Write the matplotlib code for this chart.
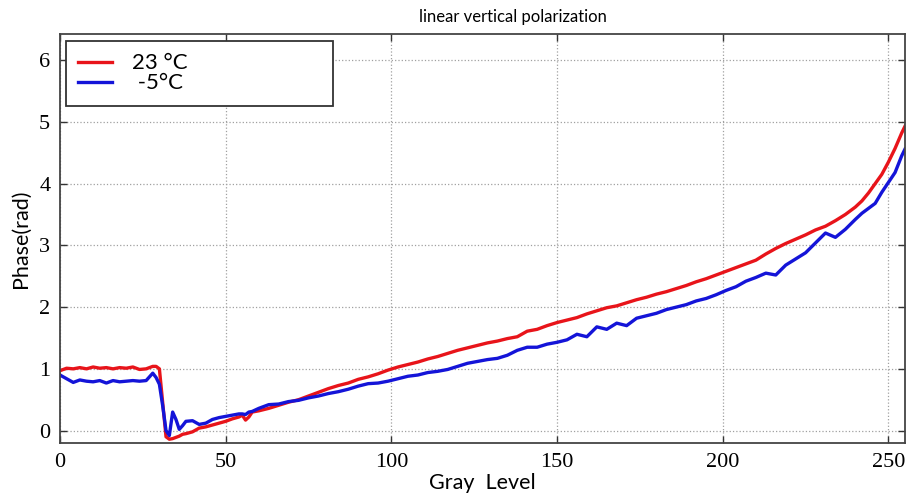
import numpy as np
import matplotlib.pyplot as plt

# gray levels where the phase was sampled
gray = [0, 2, 4, 6, 8, 10, 12, 14, 16, 18, 20, 22, 24, 26, 28,
        29, 30, 31, 32, 33, 34, 35, 36, 37, 38, 40, 42, 44, 46, 48,
        50, 52, 54, 55, 56, 57, 58, 60, 63, 66, 69, 72, 75, 78, 81,
        84, 87, 90, 93, 96, 99, 102, 105, 108, 111, 114, 117, 120, 123, 126,
        129, 132, 135, 138, 141, 144, 147, 150, 153, 156, 159, 162, 165, 168, 171,
        174, 177, 180, 183, 186, 189, 192, 195, 198, 201, 204, 207, 210, 213, 216,
        219, 222, 225, 228, 231, 234, 237, 240, 242, 244, 246, 248, 250, 252, 254, 255]

# phase (rad) at 23 C
phase_23 = [0.97, 1.01, 1.00, 1.02, 1.00, 1.03, 1.01, 1.02, 1.00, 1.02, 1.01, 1.03, 0.99, 1.00, 1.04,
            1.04, 1.00, 0.45, -0.10, -0.14, -0.13, -0.11, -0.09, -0.06, -0.05, -0.02, 0.04, 0.06, 0.09, 0.12,
            0.15, 0.19, 0.22, 0.25, 0.17, 0.22, 0.30, 0.32, 0.36, 0.41, 0.46, 0.50, 0.56, 0.62, 0.68,
            0.73, 0.77, 0.83, 0.87, 0.92, 0.98, 1.03, 1.07, 1.11, 1.16, 1.20, 1.25, 1.30, 1.34, 1.38,
            1.42, 1.45, 1.49, 1.52, 1.61, 1.64, 1.70, 1.75, 1.79, 1.83, 1.89, 1.94, 1.99, 2.02, 2.07,
            2.12, 2.16, 2.21, 2.25, 2.30, 2.35, 2.41, 2.46, 2.52, 2.58, 2.64, 2.70, 2.76, 2.86, 2.95,
            3.03, 3.10, 3.17, 3.25, 3.31, 3.40, 3.50, 3.62, 3.72, 3.85, 4.00, 4.15, 4.35, 4.57, 4.82, 4.93]

# phase (rad) at -5 C
phase_m5 = [0.90, 0.84, 0.78, 0.82, 0.80, 0.79, 0.81, 0.77, 0.81, 0.79, 0.80, 0.81, 0.80, 0.81, 0.93,
            0.86, 0.75, 0.40, 0.00, -0.08, 0.30, 0.18, 0.02, 0.08, 0.15, 0.16, 0.10, 0.12, 0.18, 0.21,
            0.23, 0.25, 0.27, 0.27, 0.26, 0.30, 0.31, 0.36, 0.42, 0.43, 0.47, 0.49, 0.53, 0.56, 0.60,
            0.63, 0.67, 0.72, 0.76, 0.77, 0.80, 0.84, 0.88, 0.90, 0.94, 0.96, 0.99, 1.04, 1.09, 1.12,
            1.15, 1.17, 1.22, 1.30, 1.35, 1.35, 1.40, 1.43, 1.47, 1.56, 1.52, 1.68, 1.64, 1.74, 1.70,
            1.82, 1.86, 1.90, 1.96, 2.00, 2.04, 2.10, 2.14, 2.20, 2.27, 2.33, 2.42, 2.48, 2.55, 2.52,
            2.68, 2.78, 2.88, 3.04, 3.20, 3.13, 3.26, 3.42, 3.52, 3.60, 3.68, 3.86, 4.02, 4.18, 4.45, 4.56]

labels = ['23 \u00b0C', ' -5\u00b0C']

fig = plt.figure(figsize=(9.06, 4.96), dpi=100)
ax = fig.add_axes([0.0662, 0.107, 0.9327, 0.824])

ax.plot(gray, phase_23, color='#e8141a', lw=2.4, label=labels[0])
ax.plot(gray, phase_m5, color='#1414d8', lw=2.4, label=labels[1])

ax.set_xlim(0, 255)
ax.set_ylim(-0.2, 6.42)
ax.set_xticks([0, 50, 100, 150, 200, 250])
ax.set_yticks([0, 1, 2, 3, 4, 5, 6])

ax.grid(True, linestyle=':', color='#a0a0a0', linewidth=0.9)
ax.tick_params(direction='in', top=True, right=True, length=5, width=1, colors='#333333',
               labelcolor='black', labelsize=16, pad=7)
for lab in ax.get_xticklabels() + ax.get_yticklabels():
    lab.set_family('Liberation Serif')
for sp in ax.spines.values():
    sp.set_color('#444444')
    sp.set_linewidth(1.3)

ax.set_xlabel('Gray  Level', family='Lato', fontsize=15.5, labelpad=1)
ax.set_ylabel('Phase(rad)', family='Lato', fontsize=15.5, labelpad=6)
fig.text(0.566, 0.965, 'linear vertical polarization', family='Lato', fontsize=12,
         ha='center', va='center')

leg = ax.legend(loc='upper left', bbox_to_anchor=(0.0071, 0.983, 0.316, 0.0), mode='expand',
                prop={'family': 'Lato', 'size': 16}, fancybox=False, framealpha=1,
                edgecolor='#333333', handlelength=1.5, handletextpad=0.9,
                labelspacing=0.0, borderpad=0.55, borderaxespad=0)
leg.get_frame().set_linewidth(1.3)

fig.savefig('out.png', dpi=100)
